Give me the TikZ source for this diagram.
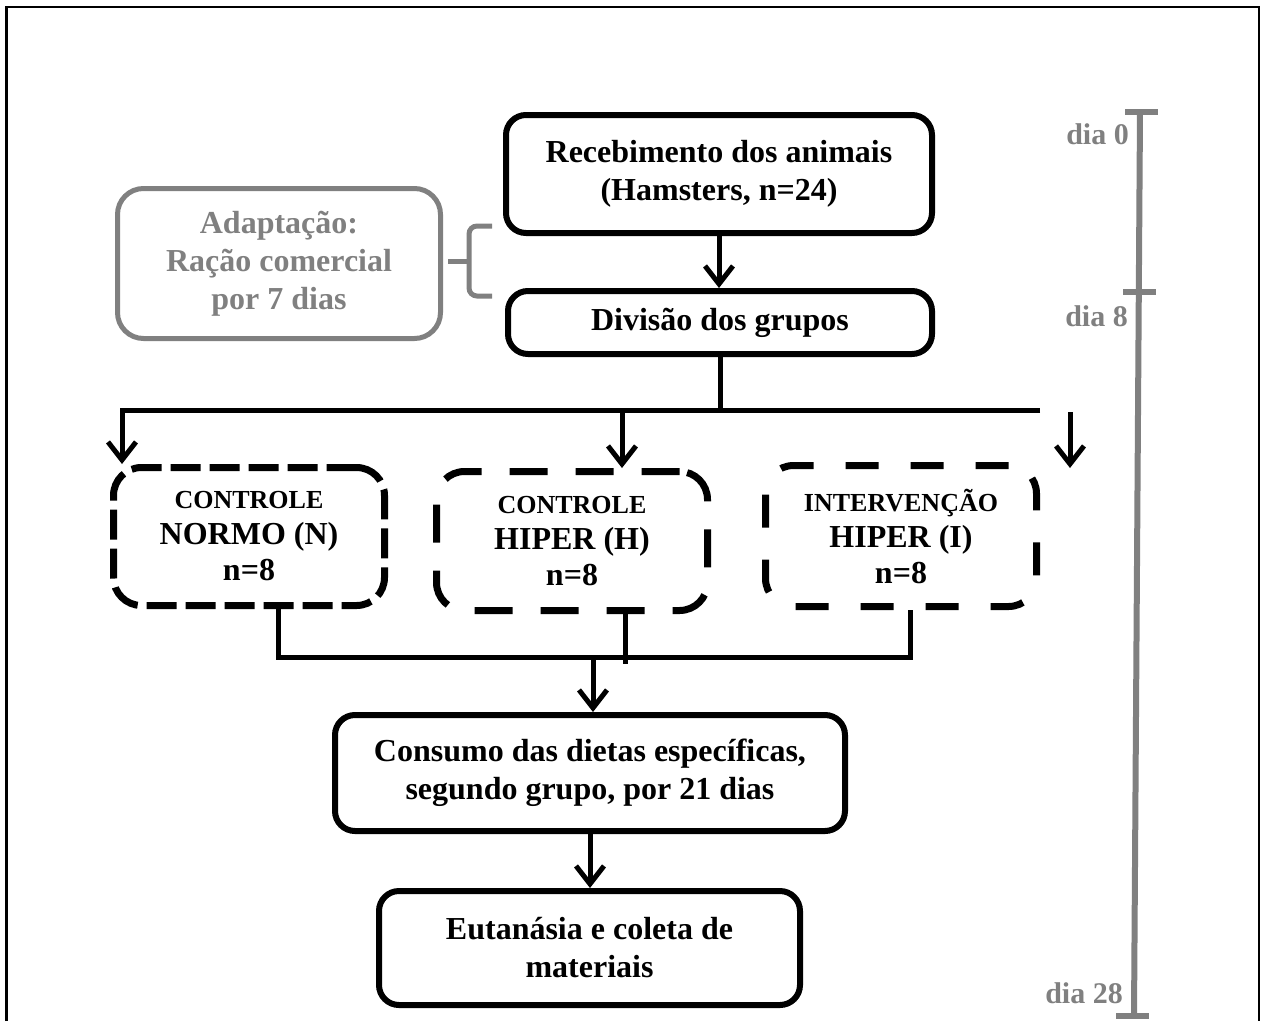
\documentclass[tikz,border=0pt]{standalone}
\usepackage{fontspec}
\setmainfont{Liberation Serif}
\usetikzlibrary{arrows.meta}
\definecolor{ink}{RGB}{128,128,128}
\begin{document}
\begin{tikzpicture}[x=1pt,y=-1pt,
  txt/.style={font=\bfseries\fontsize{32}{38}\selectfont, align=center},
  solidbox/.style={draw, line width=6pt, rounded corners=20pt, txt, inner sep=0pt},
  greybox/.style={draw=ink, text=ink, line width=5pt, rounded corners=26pt, txt, inner sep=0pt},
  groupbox/.style={draw, line width=7pt, rounded corners=28pt, inner sep=0pt, align=center,
    minimum width=271pt, font=\bfseries\fontsize{32}{36}\selectfont},
  small/.style={},
  conn/.style={line width=5pt},
  arr/.style={conn, -{Straight Barb[length=18pt,width=28pt]}},
  tick/.style={draw=ink, line width=6pt},
  daylbl/.style={text=ink, font=\bfseries\fontsize{30}{34}\selectfont, anchor=base east, inner sep=0pt}
]
\useasboundingbox (0,0) rectangle (1261,1021);

% outer frame (open at the bottom)
\draw[line width=2.5pt] (6.5,1021) -- (6.5,7) -- (1259,7) -- (1259,1021);

% main flow boxes
\node[solidbox, minimum width=426pt, minimum height=118pt] (rec) at (719,174)
  {Recebimento dos animais\\(Hamsters, n=24)};
\node[solidbox, minimum width=424pt, minimum height=63pt] (div) at (720,322.5)
  {Divisão dos grupos};
\node[greybox, minimum width=323pt, minimum height=150pt] (adp) at (279,263.5)
  {Adaptação:\\Ração comercial\\por 7 dias};

% experimental groups
\node[groupbox, dash pattern=on 30pt off 9pt, minimum height=138pt] (gN) at (249,536.5)
  {{\fontsize{26}{30}\selectfont CONTROLE}\\NORMO (N)\\n=8};
\node[groupbox, dash pattern=on 38pt off 28pt, minimum height=139pt] (gH) at (572,541)
  {{\fontsize{26}{30}\selectfont CONTROLE}\\HIPER (H)\\n=8};
\node[groupbox, dash pattern=on 33pt off 32pt, minimum height=141pt] (gI) at (901,536)
  {{\fontsize{26}{30}\selectfont INTERVENÇÃO}\\HIPER (I)\\n=8};

\node[solidbox, minimum width=510pt, minimum height=116pt] (con) at (590,773)
  {Consumo das dietas específicas,\\segundo grupo, por 21 dias};
\node[solidbox, minimum width=421pt, minimum height=114pt] (eut) at (589.5,948)
  {Eutanásia e coleta de\\materiais};

% connectors
\draw[arr] (rec.south) -- (rec.south |- div.north);

\coordinate (splitL) at (122,410);
\coordinate (splitR) at (1040,410);
\coordinate (splitH) at (622,410);
\draw[conn] (div.south) -- (div.south |- splitL);
\draw[arr] (splitR) -- (splitL) -- ([xshift=12pt]gN.north west);
\draw[arr] (splitH) -- (splitH |- gH.north);
\coordinate (looseA) at (1070,412);
\coordinate (looseB) at (1070,468);
\draw[arr] (looseA) -- (looseB);

\coordinate (mergeL) at (278,657);
\coordinate (mergeR) at (910,657);
\coordinate (mergeH) at (625,664);
\coordinate (mergeC) at (593,657);
\draw[conn] (mergeL |- gN.south) -- (mergeL) -- (mergeR) -- (mergeR |- gI.south);
\draw[conn] (mergeH |- gH.south) -- (mergeH);
\draw[arr] (mergeC) -- (mergeC |- con.north);
\draw[arr] (con.south) -- (con.south |- eut.north);

% brace joining the adaptation note to the first week
\coordinate (brTop) at (492,226);
\coordinate (brBot) at (492,296);
\coordinate (brTip) at (448,261);
\draw[ink, line width=5pt, rounded corners=8pt] (brTop) -- (469,226) -- (469,296) -- (brBot);
\draw[ink, line width=5pt] (469,261) -- (brTip);

% timeline
\coordinate (t0) at (1140,112);
\coordinate (t28) at (1134,1016);
\draw[tick] (t0) -- (t28);
\draw[tick] (1125,112) -- (1158,112);
\draw[tick] (1123,292) -- (1156,292);
\draw[tick] (1116,1016) -- (1149,1016);
\node[daylbl] (d0) at (1129,144) {dia 0};
\node[daylbl] (d8) at (1128,326) {dia 8};
\node[daylbl] (d28) at (1123,1003) {dia 28};
\end{tikzpicture}
\end{document}
